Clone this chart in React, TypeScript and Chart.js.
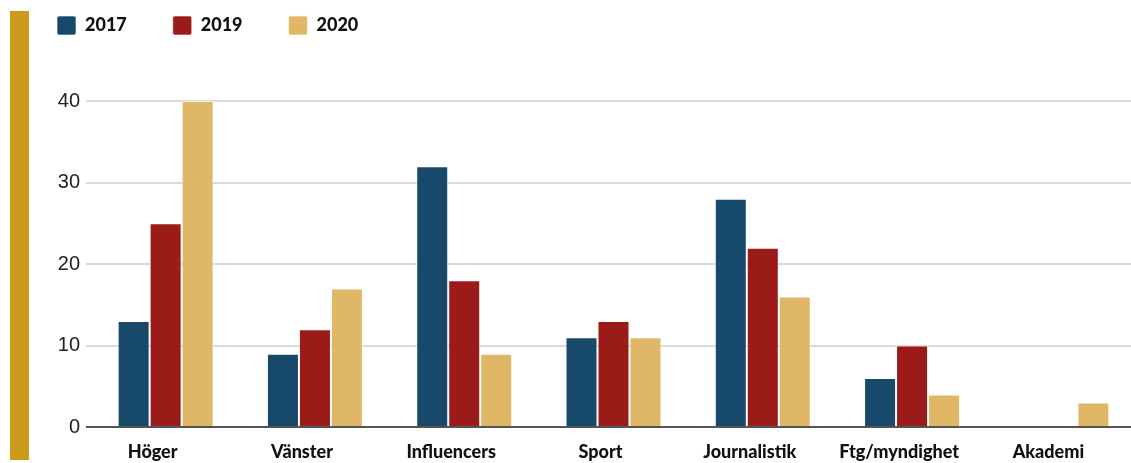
import React, { useEffect, useRef } from 'react';
import { Chart, registerables } from 'chart.js';

Chart.register(...registerables);

const categories = ['Höger', 'Vänster', 'Influencers', 'Sport', 'Journalistik', 'Ftg/myndighet', 'Akademi'];
const seriesNames = ['2017', '2019', '2020'];
const values2017 = [13, 9, 32, 11, 28, 6, null];
const values2019 = [25, 12, 18, 13, 22, 10, null];
const values2020 = [40, 17, 9, 11, 16, 4, 3];
const yMin = 0;
const yMax = 40;
const yStep = 10;
const seriesColors = ['#174A6A', '#9B1B18', '#E0B767'];

export default function App() {
  const canvasRef = useRef<HTMLCanvasElement | null>(null);

  useEffect(() => {
    if (!canvasRef.current) return;
    const legendSpacer = {
      id: 'legendSpacer',
      beforeInit(chart: any) {
        const legend = chart.legend;
        if (!legend) return;
        const orig = legend.fit;
        legend.fit = function () {
          orig.call(this);
          this.height = 131;
        };
      },
    };
    const allValues = [values2017, values2019, values2020];
    const chart = new Chart(canvasRef.current, {
      type: 'bar',
      data: {
        labels: categories,
        datasets: seriesNames.map((name, i) => ({
          label: name,
          data: allValues[i],
          backgroundColor: seriesColors[i],
          borderColor: 'rgba(255,255,255,0.6)',
          borderWidth: 1,
          borderRadius: 0,
          categoryPercentage: 0.643,
          barPercentage: 1,
        })),
      },
      options: {
        animation: false,
        responsive: false,
        devicePixelRatio: 1,
        layout: { padding: { top: -30, left: 11, right: 0, bottom: 0 } },
        plugins: {
          tooltip: { enabled: false },
          legend: {
            position: 'top',
            align: 'start',
            labels: {
              boxWidth: 19,
              boxHeight: 19,
              padding: 46,
              color: '#111',
              useBorderRadius: true,
              borderRadius: 2,
              font: { family: 'Lato', weight: '900', size: 18 },
            },
          },
        },
        scales: {
          x: {
            grid: { display: false, drawTicks: false },
            border: { display: false },
            ticks: {
              padding: 14,
              labelOffset: -13,
              maxRotation: 0,
              autoSkip: false,
              color: '#111',
              font: { family: 'Lato', weight: '900', size: 18 },
            },
            afterFit(scale: any) {
              scale.height = 36;
            },
          },
          y: {
            min: yMin,
            max: yMax,
            ticks: {
              stepSize: yStep,
              padding: 6,
              color: '#222',
              font: { family: 'Liberation Sans', size: 20 },
            },
            grid: {
              color: (ctx: any) => (ctx.tick && ctx.tick.value === 0 ? '#555555' : '#d9d9d9'),
              lineWidth: 2,
              tickLength: 5,
              drawTicks: true,
            },
            border: { display: false },
            afterFit(scale: any) {
              scale.width = 80;
            },
          },
        },
      },
      plugins: [legendSpacer],
    } as any);
    return () => chart.destroy();
  }, []);

  return (
    <div
      style={{
        position: 'fixed',
        left: 0,
        top: 0,
        width: 1131,
        height: 463,
        overflow: 'hidden',
        background: '#fff',
      }}
    >
      <canvas ref={canvasRef} width={1136} height={463} style={{ display: 'block' }} />
      <div
        style={{
          position: 'absolute',
          left: 10,
          top: 11,
          width: 19,
          height: 449,
          background: '#CE9A1E',
        }}
      />
    </div>
  );
}
